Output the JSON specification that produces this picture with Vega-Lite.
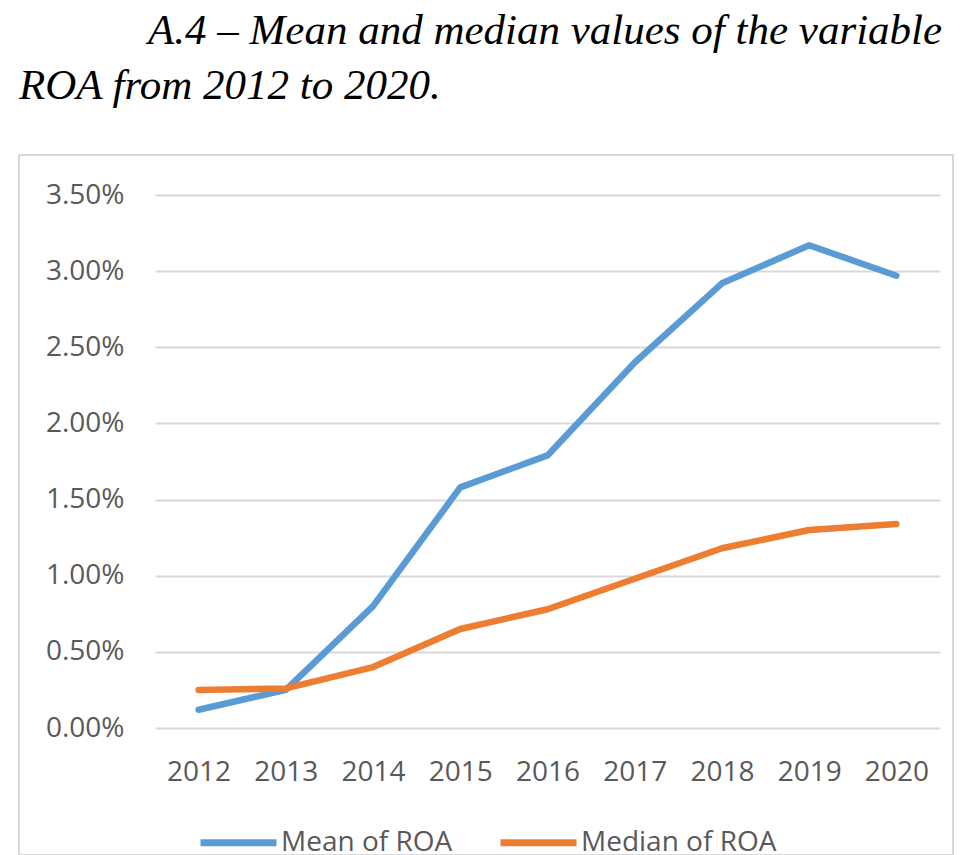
{
  "$schema": "https://vega.github.io/schema/vega-lite/v6.json",
  "autosize": {"type": "none"},
  "padding": {"left": 19, "top": 155, "right": 11, "bottom": 0},
  "width": 934,
  "height": 700,
  "background": "white",
  "title": {
    "text": ["\u200b\u00a0\u00a0\u00a0\u00a0\u00a0\u00a0\u00a0\u00a0\u00a0\u00a0\u00a0\u00a0A.4 – Mean and median values of the variable", "ROA from 2012 to 2020."],
    "anchor": "start",
    "frame": "group",
    "font": "Liberation Serif",
    "fontStyle": "italic",
    "fontWeight": "normal",
    "fontSize": 43,
    "color": "#000000",
    "lineHeight": 55,
    "offset": 47
  },
  "data": {
    "values": [
      {"year": "2012", "series": "Mean of ROA", "value": 0.0012},
      {"year": "2013", "series": "Mean of ROA", "value": 0.0025},
      {"year": "2014", "series": "Mean of ROA", "value": 0.0080},
      {"year": "2015", "series": "Mean of ROA", "value": 0.0158},
      {"year": "2016", "series": "Mean of ROA", "value": 0.0179},
      {"year": "2017", "series": "Mean of ROA", "value": 0.0240},
      {"year": "2018", "series": "Mean of ROA", "value": 0.0292},
      {"year": "2019", "series": "Mean of ROA", "value": 0.0317},
      {"year": "2020", "series": "Mean of ROA", "value": 0.0297},
      {"year": "2012", "series": "Median of ROA", "value": 0.0025},
      {"year": "2013", "series": "Median of ROA", "value": 0.0026},
      {"year": "2014", "series": "Median of ROA", "value": 0.0040},
      {"year": "2015", "series": "Median of ROA", "value": 0.0065},
      {"year": "2016", "series": "Median of ROA", "value": 0.0078},
      {"year": "2017", "series": "Median of ROA", "value": 0.0098},
      {"year": "2018", "series": "Median of ROA", "value": 0.0118},
      {"year": "2019", "series": "Median of ROA", "value": 0.0130},
      {"year": "2020", "series": "Median of ROA", "value": 0.0134}
    ]
  },
  "mark": {"type": "line", "strokeWidth": 6.5, "strokeCap": "round", "strokeJoin": "round"},
  "encoding": {
    "x": {
      "field": "year",
      "type": "ordinal",
      "scale": {"type": "point", "range": [136, 921], "padding": 0.5},
      "axis": {
        "title": null,
        "offset": -127,
        "domain": false,
        "ticks": false,
        "tickSize": 0,
        "grid": false,
        "labelAngle": 0,
        "labelPadding": 30,
        "labelFont": "Open Sans",
        "labelFontSize": 28,
        "labelColor": "#595959"
      }
    },
    "y": {
      "field": "value",
      "type": "quantitative",
      "scale": {"domain": [0, 0.035], "range": [573, 40], "nice": false},
      "axis": {
        "title": null,
        "format": ".2%",
        "values": [0, 0.005, 0.01, 0.015, 0.02, 0.025, 0.03, 0.035],
        "offset": -136,
        "domain": false,
        "ticks": false,
        "tickSize": 0,
        "grid": true,
        "gridColor": "#d9d9d9",
        "gridWidth": 2,
        "labelPadding": 31,
        "labelFont": "Open Sans",
        "labelFontSize": 28,
        "labelColor": "#595959"
      }
    },
    "color": {
      "field": "series",
      "type": "nominal",
      "scale": {"domain": ["Mean of ROA", "Median of ROA"], "range": ["#5B9BD5", "#ED7D31"]},
      "legend": {
        "title": null,
        "orient": "none",
        "legendX": 178,
        "legendY": 646,
        "direction": "horizontal",
        "padding": 0,
        "symbolType": "stroke",
        "symbolSize": 5776,
        "symbolStrokeWidth": 7,
        "labelFont": "Open Sans",
        "labelFontSize": 28,
        "labelColor": "#595959",
        "labelOffset": 1,
        "labelLimit": 400,
        "columnPadding": 33
      }
    }
  },
  "config": {"view": {"stroke": "#d9d9d9", "strokeWidth": 2}}
}
